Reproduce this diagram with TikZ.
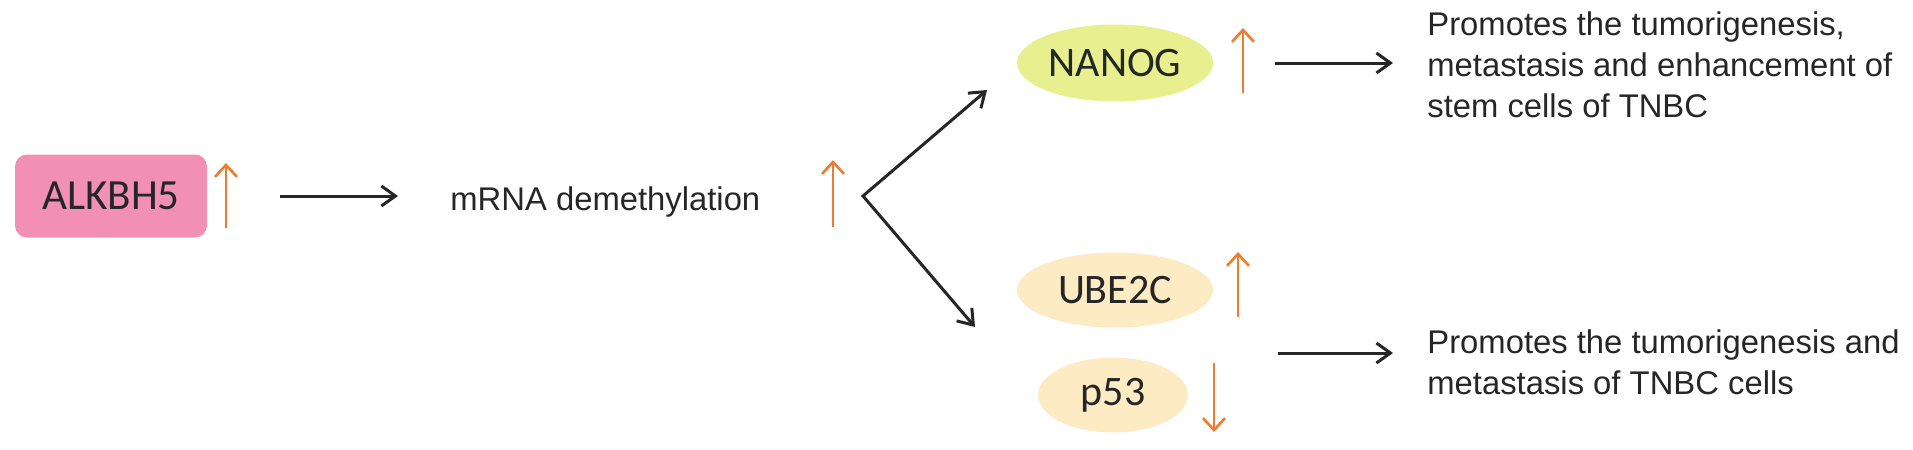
\documentclass[tikz,border=0pt]{standalone}
\usepackage{fontspec}
\setmainfont{Liberation Sans}
\newfontfamily\genefont{Carlito}
\usepackage{tikz}
\usetikzlibrary{arrows.meta,shapes,positioning}
\definecolor{alkpink}{HTML}{F190B2}
\definecolor{nanoglime}{HTML}{E7EF8E}
\definecolor{pairpeach}{HTML}{FCEBC3}
\definecolor{riseorange}{HTML}{EE7D31}
\tikzset{>={Straight Barb[length=7pt,width=10pt]},
  gene/.style={ellipse, inner sep=0pt, font=\genefont\fontsize{21}{25}\selectfont, text=black!85},
  effect/.style={inner sep=0pt, align=left, font=\fontsize{16.4}{20.5}\selectfont, text=black!85},
  link/.style={line width=1.5pt, draw=black!85},
  rise/.style={line width=1.3pt, draw=riseorange, -{Straight Barb[length=6pt,width=11pt]}}}

\begin{document}
\begin{tikzpicture}[x=0.5pt, y=-0.5pt]
\useasboundingbox (0,0) rectangle (1913,450);

\node [rectangle, rounded corners=6pt, fill=alkpink, minimum width=96pt, minimum height=41.5pt,
  font=\genefont\fontsize{21.5}{25}\selectfont, text=black!85] (alk) at (111,196) {ALKBH5};
\node [effect, anchor=base west] (mrna) at (450,210) {mRNA demethylation};

\node [gene, fill=nanoglime, minimum width=98pt, minimum height=38.5pt] (nanog) at (1115,63) {NANOG};
\node [gene, fill=pairpeach, minimum width=98pt, minimum height=37.5pt] (ube) at (1115,290) {UBE2C};
\node [gene, fill=pairpeach, minimum width=75pt, minimum height=37.5pt] (p53) at (1113,395) {p53};

\node [effect, anchor=north west] (eff1) at (1427,11)
  {Promotes the tumorigenesis,\\metastasis and enhancement of\\stem cells of TNBC};
\node [effect, anchor=north west] (eff2) at (1427,329)
  {Promotes the tumorigenesis and\\metastasis of TNBC cells};

\coordinate (fork) at (863,196);
\coordinate (toNanog) at (987,90);
\coordinate (toPair) at (975,327);
\coordinate (pairOut) at (1278,353);

\draw [link, ->, shorten <=36.5pt, shorten >=26pt] (alk.east) -- (alk.east -| mrna.west);
\draw [link, <->] (toNanog) -- (fork) -- (toPair);
\draw [link, ->, shorten <=31pt, shorten >=17pt] (nanog.east) -- (nanog.east -| eff1.west);
\draw [link, ->, shorten >=17pt] (pairOut) -- (pairOut -| eff2.west);

\foreach \x/\lo/\hi in {226/228/163, 833/227/160, 1243/93/28, 1238/317/252}
  \draw [rise] (\x,\lo) -- (\x,\hi);
\draw [rise] (1214,363) -- (1214,432);
\end{tikzpicture}
\end{document}
